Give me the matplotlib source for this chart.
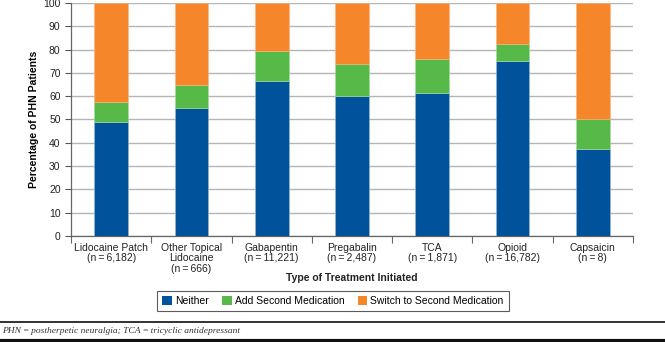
import numpy as np
import matplotlib.pyplot as plt
from matplotlib.patches import Patch
from matplotlib.lines import Line2D

plt.rcParams['font.family'] = ['Liberation Sans', 'DejaVu Sans']

# ── data (percent of PHN patients) ──
categories = ["Lidocaine Patch\n(n\u2009=\u20096,182)", "Other Topical\nLidocaine\n(n\u2009=\u2009666)",
              "Gabapentin\n(n\u2009=\u200911,221)", "Pregabalin\n(n\u2009=\u20092,487)",
              "TCA\n(n\u2009=\u20091,871)", "Opioid\n(n\u2009=\u200916,782)",
              "Capsaicin\n(n\u2009=\u20098)"]
neither = [49.0, 55.0, 66.4, 60.0, 61.4, 75.2, 37.5]
add_second = [8.6, 9.6, 13.1, 13.9, 14.5, 7.3, 12.5]
switch_second = [100 - a - b for a, b in zip(neither, add_second)]
series_names = ["Neither", "Add Second Medication", "Switch to Second Medication"]
colors = ["#00539b", "#57b947", "#f5862a"]

fig = plt.figure(figsize=(6.65, 3.42), dpi=100)
ax = fig.add_axes([71 / 665, 1 - 236 / 342, (633 - 71) / 665, 233 / 342])

x = np.arange(len(categories))
w = 0.42
ax.bar(x, neither, w, color=colors[0], edgecolor="#9fb8d6", linewidth=0.4, zorder=3)
ax.bar(x, add_second, w, bottom=neither, color=colors[1], edgecolor="#a9d8a0",
       linewidth=0.4, zorder=3)
bottom2 = [a + b for a, b in zip(neither, add_second)]
ax.bar(x, switch_second, w, bottom=bottom2, color=colors[2], edgecolor="#f8b57c",
       linewidth=0.4, zorder=3)

ax.set_xlim(-0.5, len(categories) - 0.5)
ax.set_ylim(0, 100)
ax.set_yticks(range(0, 101, 10))
ax.yaxis.grid(True, color="#b5b5b5", linewidth=1.0, zorder=0)
ax.tick_params(axis="y", labelsize=7.5, colors="#555555", labelcolor="#222222",
               length=4, width=0.8)

# category labels centred, tick marks between categories
ax.set_xticks(x)
ax.set_xticklabels(categories, fontsize=7.5, color="#222222", linespacing=1.05)
ax.tick_params(axis="x", length=0, pad=5)
ax.set_xticks(np.arange(-0.5, len(categories)), minor=True)
ax.tick_params(axis="x", which="minor", length=5, width=0.8, color="#666666")

for s in ["top", "right"]:
    ax.spines[s].set_visible(False)
for s in ["left", "bottom"]:
    ax.spines[s].set_color("#666666")
    ax.spines[s].set_linewidth(0.9)

ax.set_ylabel("Percentage of PHN Patients", fontsize=7.5, fontweight="bold", labelpad=3)
fig.text((71 + 633) / 2 / 665, 1 - 278 / 342, "Type of Treatment Initiated",
         fontsize=7.5, fontweight="bold", ha="center", va="center", color="#222222")

handles = [Patch(facecolor=c, edgecolor="none") for c in colors]
leg = fig.legend(handles, series_names, loc="center", bbox_to_anchor=(333 / 665, 1 - 301 / 342),
                 ncol=3, fontsize=7.5, frameon=True, fancybox=False,
                 handlelength=0.9, handleheight=0.9, handletextpad=0.3,
                 columnspacing=1.3, borderpad=0.5)
leg.get_frame().set_edgecolor("#333333")
leg.get_frame().set_linewidth(0.8)

# footnote rule and text
fig.add_artist(Line2D([0, 1], [1 - 322 / 342] * 2, color="#222222", linewidth=1.3))
fig.add_artist(Line2D([0, 1], [1 - 340.5 / 342] * 2, color="#111111", linewidth=3))
fig.text(0.003, 1 - 331 / 342, "PHN\u2009=\u2009postherpetic neuralgia; TCA\u2009=\u2009tricyclic antidepressant",
         fontsize=6.8, style="italic", family=["Liberation Serif", "DejaVu Serif"],
         va="center", ha="left", color="#333333")

fig.savefig("out.png", dpi=100)
